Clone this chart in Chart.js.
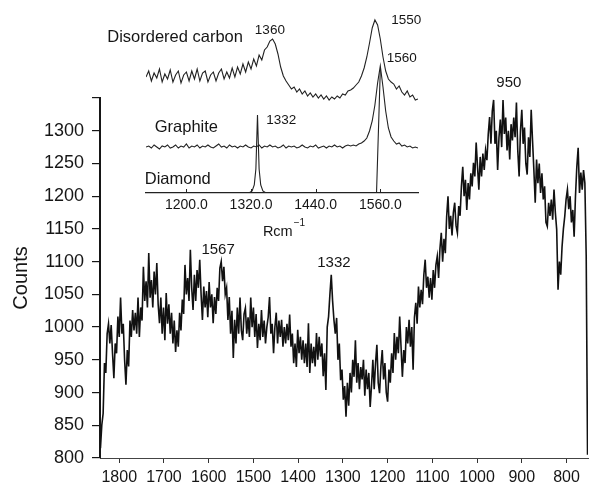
<!DOCTYPE html>
<html>
<head>
<meta charset="utf-8">
<script src="https://cdn.jsdelivr.net/npm/chart.js@4.4.1/dist/chart.umd.min.js"></script>
<style>
  html, body { margin: 0; padding: 0; background: #fff; }
  #wrap { position: relative; width: 594px; height: 487px; }
  #main { position: absolute; left: 0; top: 0; }
  #inset { position: absolute; left: 100px; top: 0; }
</style>
</head>
<body>
<div id="wrap">
  <canvas id="main" width="594" height="487"></canvas>
  <canvas id="inset" width="330" height="245"></canvas>
</div>
<script>
// ---- Main spectrum: counts sampled every 3 cm-1, starting at 1842 cm-1 ----
const spectrumStart = 1842;
const spectrumStep = 3;
const counts = [
  815, 850, 868, 945, 930, 990, 1005, 975, 1003, 960,
  922, 975, 960, 1016, 985, 1045, 990, 1005, 950, 912,
  965, 940, 1010, 985, 1026, 995, 1022, 990, 1045, 985,
  1030, 1010, 1092, 1040, 1070, 1030, 1113, 1045, 1072, 1030,
  1085, 1050, 1098, 1035, 1006, 1045, 990, 1030, 980, 1052,
  1005, 1035, 990, 1022, 975, 1010, 962, 995, 970, 1022,
  995, 1042, 1020, 1095, 1050, 1075, 1040, 1118, 1060, 1026,
  1080, 1040, 1087, 1060, 1103, 1050, 1011, 1062, 1030, 1055,
  1015, 1069, 1030, 1050, 1006, 1046, 1020, 1060, 1040, 1090,
  1100, 1070, 1092, 1050, 1060, 1011, 1046, 990, 1025, 953,
  1011, 975, 1030, 990, 1045, 995, 980, 1020, 1029, 990,
  1015, 985, 1045, 1000, 1030, 985, 1020, 968, 1005, 980,
  1026, 985, 1010, 975, 1000, 1015, 1046, 990, 1005, 960,
  1000, 1022, 975, 1010, 985, 1011, 970, 1000, 975, 1005,
  980, 1019, 970, 990, 945, 975, 939, 996, 960, 985,
  950, 980, 945, 975, 939, 1006, 930, 975, 945, 970,
  940, 991, 950, 985, 955, 975, 925, 960, 904, 1000,
  1016, 1050, 1080, 1040, 1011, 990, 1014, 950, 975, 919,
  935, 889, 910, 863, 915, 880, 930, 900, 950, 924,
  980, 915, 945, 905, 939, 920, 950, 895, 935, 905,
  930, 878, 910, 950, 905, 945, 973, 915, 899, 940,
  965, 920, 945, 900, 886, 935, 915, 960, 930, 991,
  950, 985, 960, 1016, 970, 924, 965, 945, 1000, 975,
  1011, 970, 1000, 935, 1015, 1037, 1005, 1062, 1030, 1057,
  1035, 1080, 1103, 1060, 1077, 1045, 1075, 1042, 1087, 1060,
  1095, 1108, 1075, 1120, 1144, 1100, 1135, 1113, 1169, 1200,
  1150, 1170, 1140, 1175, 1190, 1155, 1144, 1185, 1170, 1215,
  1245, 1200, 1225, 1179, 1220, 1195, 1235, 1215, 1251, 1230,
  1282, 1245, 1210, 1260, 1230, 1265, 1240, 1270, 1255, 1295,
  1321, 1280, 1330, 1347, 1280, 1300, 1240, 1290, 1317, 1275,
  1347, 1295, 1320, 1270, 1300, 1256, 1310, 1285, 1320, 1290,
  1343, 1270, 1230, 1300, 1332, 1280, 1305, 1250, 1233, 1290,
  1260, 1332, 1285, 1240, 1190, 1256, 1220, 1250, 1205, 1235,
  1195, 1215, 1160, 1154, 1190, 1170, 1195, 1164, 1210, 1175,
  1149, 1057, 1100, 1080, 1123, 1150, 1169, 1195, 1210, 1180,
  1200, 1160, 1179, 1138, 1200, 1245, 1274, 1205, 1236, 1210,
  1240, 1220, 1108, 805
];
const xTicks = [1800, 1700, 1600, 1500, 1400, 1300, 1200, 1100, 1000, 900, 800];
const yTicks = [800, 850, 900, 950, 1000, 1050, 1100, 1150, 1200, 1250, 1300, 1350];

// ---- Inset reference spectra (stacked traces), sampled every 5 cm-1 from 1125 ----
const insetStart = 1125;
const insetStep = 5;
const disorderedCarbon = [
  116, 122, 112, 120, 115, 124, 111, 119, 114, 123,
  111, 118, 122, 110, 118, 121, 112, 122, 114, 124,
  112, 120, 122, 111, 118, 121, 112, 120, 124, 114,
  121, 115, 125, 116, 126, 119, 129, 121, 131, 124,
  134, 127, 138, 133, 143, 146, 152, 154, 149, 139,
  126, 117, 112, 108, 104, 106, 101, 104, 99, 102,
  97, 100, 96, 99, 95, 98, 94, 97, 93, 96,
  94, 97, 95, 99, 98, 102, 103, 105, 108, 111,
  117, 125, 136, 150, 165, 173, 168, 154, 136, 122,
  114, 111, 109, 104, 107, 101, 98, 102, 96, 98,
  93, 94
];
const graphite = [
  46, 47, 45, 48, 46, 44, 47, 46, 48, 45,
  46, 48, 45, 47, 46, 49, 45, 47, 46, 48,
  45, 47, 46, 48, 46, 45, 47, 49, 46, 47,
  45, 48, 46, 47, 45, 47, 46, 48, 46, 45,
  47, 46, 48, 45, 47, 46, 48, 46, 47, 45,
  46, 48, 45, 47, 46, 47, 45, 46, 48, 46,
  45, 47, 46, 48, 45, 46, 47, 45, 47, 46,
  48, 46, 47, 45, 47, 48, 47, 48, 47, 49,
  50, 52, 55, 62, 72, 88, 110, 127, 106, 82,
  65, 56, 52, 49, 50, 47, 48, 46, 47, 45,
  46, 45
];
const diamondWave   = [1125, 1316, 1322, 1326, 1329, 1331, 1332, 1333, 1335, 1338, 1342, 1348, 1553, 1560, 1561, 1562, 1630];
const diamondCounts = [0,    0,    2,    8,    24,   60,   78,   60,   24,   8,    2,    0,    0,    123,  null, 0,    0];
const insetTicks = [1200, 1320, 1440, 1560];

// ---- shared styling ----
const family = "'Liberation Sans', Arial, Helvetica, sans-serif";
const ink = '#161616';

function series(start, step, values) {
  return values.map((v, i) => ({ x: start - step * i, y: v }));
}
function seriesUp(start, step, values) {
  return values.map((v, i) => ({ x: start + step * i, y: v }));
}

// text notes placed in data coordinates of each chart
function notesPlugin(id, notes) {
  return {
    id,
    afterDraw(chart) {
      const { ctx, scales: { x, y } } = chart;
      ctx.save();
      ctx.fillStyle = ink;
      ctx.textBaseline = 'middle';
      notes.forEach(n => {
        ctx.font = `${n.size}px ${family}`;
        ctx.textAlign = n.align || 'center';
        ctx.fillText(n.text, x.getPixelForValue(n.at[0]), y.getPixelForValue(n.at[1]));
      });
      ctx.restore();
    }
  };
}

new Chart(document.getElementById('main'), {
  type: 'line',
  data: {
    datasets: [{
      data: series(spectrumStart, spectrumStep, counts),
      borderColor: '#111',
      borderWidth: 1.6,
      pointRadius: 0,
      tension: 0
    }]
  },
  options: {
    responsive: false,
    animation: false,
    layout: { padding: { top: 98, right: 6, left: 0, bottom: 0 } },
    plugins: { legend: { display: false }, tooltip: { enabled: false } },
    scales: {
      x: {
        type: 'linear',
        reverse: true,
        min: 752,
        max: 1843,
        afterBuildTicks: s => { s.ticks = xTicks.map(v => ({ value: v })); },
        afterFit: s => { s.height = 29; s.paddingLeft = 0; s.paddingRight = 0; },
        ticks: { callback: v => String(v), font: { size: 16, family }, color: ink, padding: 5, maxRotation: 0, autoSkip: false },
        grid: { drawOnChartArea: false, drawTicks: true, tickLength: 5, color: '#333', lineWidth: 1 },
        border: { display: true, color: '#444', width: 1 }
      },
      y: {
        min: 800,
        max: 1350,
        afterBuildTicks: s => { s.ticks = yTicks.map(v => ({ value: v })); },
        afterFit: s => { s.width = 100; s.paddingTop = 0; s.paddingBottom = 0; },
        ticks: { callback: v => (v === 1350 ? '' : String(v)), font: { size: 18, family }, color: ink, padding: 8, autoSkip: false },
        grid: { drawOnChartArea: false, drawTicks: true, tickLength: 8, color: ink, lineWidth: 1.2 },
        border: { display: true, color: ink, width: 2 },
        title: { display: true, text: 'Counts', font: { size: 20, family }, color: ink, padding: { top: 9, bottom: 0 } }
      }
    }
  },
  plugins: [notesPlugin('peakNotes', [
    { text: '1567', at: [1579, 1118], size: 15 },
    { text: '1332', at: [1320, 1098], size: 15 },
    { text: '950', at: [929, 1373], size: 15 }
  ])]
});

const insetTickMarks = {
  id: 'insetTickMarks',
  afterDraw(chart) {
    const s = chart.scales.x, ctx = chart.ctx, yb = chart.chartArea.bottom;
    ctx.save();
    ctx.strokeStyle = '#222';
    ctx.lineWidth = 1;
    s.ticks.forEach(t => {
      const px = Math.round(s.getPixelForValue(t.value)) + 0.5;
      ctx.beginPath(); ctx.moveTo(px, yb); ctx.lineTo(px, yb - 4); ctx.stroke();
    });
    ctx.restore();
  }
};

const insetUnitsTitle = {
  id: 'insetUnitsTitle',
  afterDraw(chart) {
    const { ctx, scales: { x, y } } = chart;
    const px = x.getPixelForValue(1342), py = y.getPixelForValue(-39);
    ctx.save();
    ctx.fillStyle = ink;
    ctx.textBaseline = 'middle';
    ctx.textAlign = 'left';
    ctx.font = `14.5px ${family}`;
    ctx.fillText('Rcm', px, py);
    const w = ctx.measureText('Rcm').width;
    ctx.font = `10px ${family}`;
    ctx.fillText('\u22121', px + w + 1, py - 9);
    ctx.restore();
  }
};

const traceStyle = { borderColor: '#222', borderWidth: 1.1, pointRadius: 0, tension: 0 };

new Chart(document.getElementById('inset'), {
  type: 'line',
  data: {
    datasets: [
      { ...traceStyle, data: seriesUp(insetStart, insetStep, disorderedCarbon) },
      { ...traceStyle, data: seriesUp(insetStart, insetStep, graphite) },
      { ...traceStyle, spanGaps: false, data: diamondWave.map((w, i) => ({ x: w, y: diamondCounts[i] })) }
    ]
  },
  options: {
    responsive: false,
    animation: false,
    layout: { padding: { top: 10, right: 12, left: 46, bottom: 0 } },
    plugins: { legend: { display: false }, tooltip: { enabled: false } },
    scales: {
      x: {
        type: 'linear',
        min: 1125,
        max: 1630,
        afterBuildTicks: s => { s.ticks = insetTicks.map(v => ({ value: v })); },
        afterFit: s => { s.height = 52; s.paddingLeft = 0; s.paddingRight = 0; },
        ticks: { callback: v => v.toFixed(1), font: { size: 14, family }, color: ink, padding: 4, maxRotation: 0, autoSkip: false },
        grid: { display: true, drawOnChartArea: false, drawTicks: false },
        border: { display: true, color: '#222', width: 1.2 }
      },
      y: { display: false, min: 0, max: 183 }
    }
  },
  plugins: [insetTickMarks, insetUnitsTitle, notesPlugin('insetNotes', [
    { text: 'Disordered carbon', at: [1053, 156], size: 16.5, align: 'left' },
    { text: '1360', at: [1355, 163], size: 13.5 },
    { text: '1550', at: [1608, 173], size: 13.5 },
    { text: '1560', at: [1600, 135], size: 13.5 },
    { text: 'Graphite', at: [1200, 66], size: 16.5 },
    { text: '1332', at: [1376, 73], size: 13.5 },
    { text: 'Diamond', at: [1184, 14], size: 16.5 }
  ])]
});
</script>
</body>
</html>
